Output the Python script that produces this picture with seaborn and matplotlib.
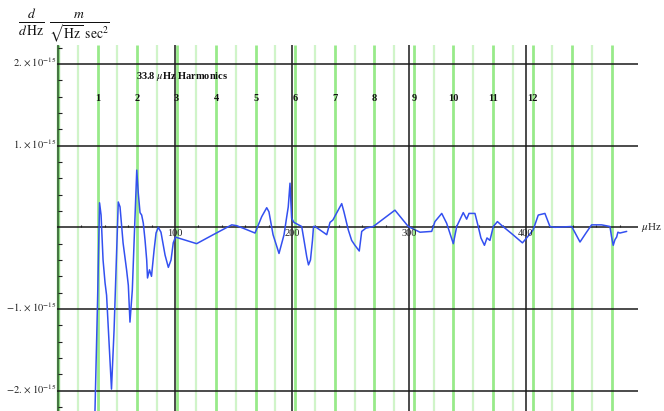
import numpy as np
import pandas as pd
import matplotlib
matplotlib.use("Agg")
import matplotlib.pyplot as plt
import seaborn as sns

sns.set_theme(style="white")
plt.rcParams["font.family"] = ["Liberation Serif", "DejaVu Serif"]
plt.rcParams["mathtext.fontset"] = "stix"

# ---- data (frequency in microhertz, value in units of 1e-15) ----
freq_uHz = [31.0, 33.8, 35.5, 36.8, 38.5, 40.2, 41.5, 45.7, 47.9, 51.5, 53.0, 55.6, 58.6, 60.1, 61.5,
            63.5, 65.4, 67.3, 68.6, 70.1, 71.5, 72.9, 74.4, 75.8, 76.5, 78.2, 79.9, 82.1, 83.8, 85.7,
            88.0, 91.5, 94.3, 96.6, 98.5, 100.4, 118.5, 132.7, 148.5, 152.7, 159.8, 168.4, 174.1, 178.4,
            180.3, 183.8, 188.9, 193.2, 195.5, 196.8, 198.3, 199.7, 201.7, 204.3, 208.3, 210.3, 212.6,
            214.1, 215.8, 217.5, 218.4, 219.7, 229.7, 232.5, 235.0, 237.6, 242.5, 244.4, 248.1, 251.0,
            253.8, 257.5, 259.6, 263.2, 269.5, 288.0, 299.4, 309.4, 319.4, 322.2, 328.0, 332.2, 337.9,
            340.8, 346.4, 349.3, 351.3, 356.4, 359.2, 361.5, 364.5, 366.7, 369.2, 372.1, 375.6, 379.5,
            388.0, 397.0, 400.6, 406.2, 410.5, 416.2, 420.5, 424.8, 439.1, 446.2, 451.3, 456.1, 464.7,
            471.8, 473.1, 474.6, 476.1, 477.5, 478.6, 480.3, 486.1]
accel_e15 = [-2.6, -0.9, 0.30, 0.15, -0.40, -0.68, -0.83, -1.98, -1.26, 0.31, 0.25, -0.19, -0.52, -0.71, -1.16,
             -0.77, -0.03, 0.70, 0.42, 0.18, 0.15, 0.05, -0.16, -0.40, -0.62, -0.52, -0.60, -0.28, -0.07, 0.00,
             -0.06, -0.34, -0.49, -0.40, -0.19, -0.12, -0.20, -0.09, 0.03, 0.02, -0.02, -0.07, 0.13, 0.24,
             0.19, -0.09, -0.32, -0.09, 0.13, 0.25, 0.54, 0.11, 0.06, 0.04, 0.01, -0.16, -0.36,
             -0.46, -0.40, -0.16, 0.01, 0.01, -0.09, 0.06, 0.09, 0.16, 0.29, 0.19, -0.03, -0.16,
             -0.22, -0.29, -0.05, -0.01, 0.01, 0.21, 0.01, -0.06, -0.05, 0.07, 0.17, 0.05, -0.20,
             0.01, 0.18, 0.10, 0.17, 0.17, 0.01, -0.13, -0.22, -0.13, -0.16, 0.01, 0.07, 0.02,
             -0.08, -0.19, -0.13, -0.03, 0.15, 0.17, 0.01, 0.00, 0.01, -0.18, -0.07, 0.03, 0.03,
             0.01, -0.11, -0.22, -0.15, -0.12, -0.06, -0.07, -0.05]

harmonic_uHz = 33.8
harmonic_labels = [str(i) for i in range(1, 13)]
x_grid = [0, 100, 200, 300, 400]
x_tick_labels = ["100", "200", "300", "400"]
y_grid = [2, 1, 0, -1, -2]
y_tick_labels = [r"$2.\times10^{-15}$", r"$1.\times10^{-15}$",
                 r"$-1.\times10^{-15}$", r"$-2.\times10^{-15}$"]
y_tick_values = [2, 1, -1, -2]

df = pd.DataFrame({"freq": freq_uHz, "accel": accel_e15})

fig = plt.figure(figsize=(6.64, 4.11), dpi=100)
ax = fig.add_axes([0, 0, 1, 1])
ax.set_xlim(-49.6, 518.0)
ax.set_ylim(-2.248, 2.782)
ax.axis("off")

y_top = 2.23
y_bot = -2.26
x_right = 496

# green harmonic lines
halves = np.arange(1, 29)
for h in halves:
    xv = h * harmonic_uHz / 2
    if h % 2 == 0:
        ax.vlines(xv, y_bot, y_top, color="#98ea8a", lw=2.0, zorder=1)
    else:
        ax.vlines(xv, y_bot, y_top, color="#d0f4c9", lw=1.6, zorder=1)

# black grid
ax.vlines(0, y_bot, y_top, color="#8fd884", lw=2.4, zorder=1)
for xv in x_grid:
    ax.vlines(xv, y_bot, y_top, color="#1a1a1a" if xv else "#2f5a2f", lw=1.1, zorder=2)
for yv in y_grid:
    ax.hlines(yv, -1, x_right, color="#1a1a1a", lw=1.1, zorder=2)

# small ticks
minor_x = [v for v in range(20, 481, 20) if v % 100 != 0]
ax.scatter(minor_x, [0.015] * len(minor_x), marker="|", s=4, color="#222", lw=0.8, zorder=3)
minor_y = [v / 10 for v in range(-22, 23, 2) if v % 10 != 0]
ax.scatter([1.6] * len(minor_y), minor_y, marker="_", s=5, color="#222", lw=0.8, zorder=3)

# curve
sns.lineplot(data=df, x="freq", y="accel", ax=ax, sort=False, estimator=None,
             color="#3350f0", lw=1.1, zorder=4, legend=False)

# tick labels
for xv, lab in zip(x_grid[1:], x_tick_labels):
    ax.text(xv, -0.075, lab, ha="center", va="center", fontsize=7.5, color="#222", zorder=5)
for yv, lab in zip(y_tick_values, y_tick_labels):
    ax.text(-1.5, yv + 0.02, lab, ha="right", va="center", fontsize=7.5, color="#222")

ax.text(x_right + 2.5, 0.0, r"$\mu$Hz", ha="left", va="center", fontsize=8, color="#222")

# harmonic annotation
ax.text(66.5, 1.84, r"33.8 $\mu$Hz Harmonics", ha="left", va="center",
        fontsize=7.5, fontweight="bold", color="#111")
for i, lab in enumerate(harmonic_labels, start=1):
    ax.text(i * harmonic_uHz, 1.58, lab, ha="center", va="center", fontsize=7.5,
            fontweight="bold", color="#111")

# axis label at top-left
ax.text(-34.5, 2.47, r"$\frac{d}{d\,\mathrm{Hz}}\ \frac{m}{\sqrt{\mathrm{Hz}}\ \mathrm{sec}^{2}}$",
        ha="left", va="center", fontsize=14, color="#111")

fig.savefig("out.png", dpi=100)
